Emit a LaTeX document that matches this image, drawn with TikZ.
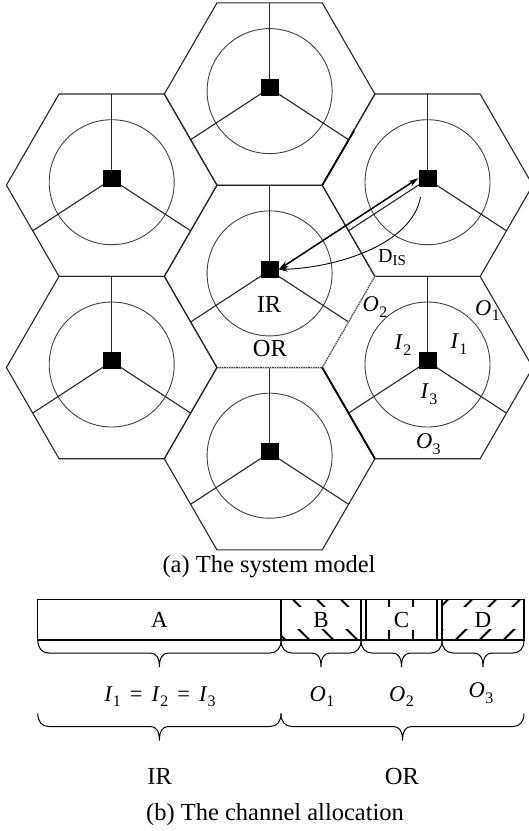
\documentclass[tikz,border=0pt]{standalone}
\usepackage{fontspec}
\setmainfont{Liberation Serif}
\usetikzlibrary{arrows.meta}
\newcommand\hexS{105.3}
\newcommand\hexA{91.2}
% italic letter with upright subscript digit
\newcommand\isub[2]{\textit{#1}\kern0.3pt\raisebox{-0.25em}{\fontsize{16}{18}\selectfont #2}}
% #1 name, #2 cx, #3 cy
\newcommand\hexcell[3]{%
  \draw[hexline] (#2+\hexS,#3) -- (#2+\hexS/2,#3-\hexA) -- (#2-\hexS/2,#3-\hexA) -- (#2-\hexS,#3)
     -- (#2-\hexS/2,#3+\hexA) -- (#2+\hexS/2,#3+\hexA) -- cycle;
  \draw[ring] (#2,#3-3) circle[radius=62.5];
  \coordinate (#1) at (#2,#3-6);
  \draw[spoke] (#1) -- (#2,#3-\hexA);
  \draw[spoke] (#1) -- (#2-0.866*\hexA,#3+0.5*\hexA);
  \draw[spoke] (#1) -- (#2+0.866*\hexA,#3+0.5*\hexA);
  \node[bs] (#1s) at (#2,#3-7) {};
}
% #1 x1, #2 x2, #3 ytop
\newcommand\hbrace[3]{%
  \draw[brc] (#1,#3) .. controls (#1,#3+8) and (#1+4,#3+13) .. (#1+11,#3+13)
    -- ({(#1+#2)/2-9},#3+13) .. controls ({(#1+#2)/2-3},#3+13) and ({(#1+#2)/2},#3+18) .. ({(#1+#2)/2},#3+27)
    .. controls ({(#1+#2)/2},#3+18) and ({(#1+#2)/2+3},#3+13) .. ({(#1+#2)/2+9},#3+13)
    -- (#2-11,#3+13) .. controls (#2-4,#3+13) and (#2,#3+8) .. (#2,#3);
}
\begin{document}
\begin{tikzpicture}[x=1pt,y=-1pt,
  hexline/.style={line width=1.1pt, black!85},
  ring/.style={line width=0.9pt, black!75},
  spoke/.style={line width=1.1pt, black!85},
  bs/.style={fill=black, minimum width=18pt, minimum height=17pt, inner sep=0pt, draw=none},
  lbl/.style={font=\fontsize{24.5}{28}\selectfont, inner sep=0pt},
  mlbl/.style={font=\fontsize{22.5}{26}\selectfont, inner sep=0pt},
  captxt/.style={font=\fontsize{24.5}{28}\selectfont, inner sep=0pt},
  celltxt/.style={font=\fontsize{23}{26}\selectfont, inner sep=0pt},
  bar/.style={line width=1.1pt},
  brc/.style={line width=1pt},
  hatch/.style={line width=1.8pt},
  dblarrow/.style={{Stealth[length=10pt,width=6pt]}-{Stealth[length=10pt,width=6pt]}},
  sglarrow/.style={-{Stealth[length=9pt,width=5pt]}},
]
\useasboundingbox (0,0) rectangle (529,831);

% ---- hexagonal cells ----
\hexcell{T}{269.6}{94.1}
\hexcell{UL}{111.7}{185.2}
\hexcell{UR}{427.5}{185.2}
\hexcell{C}{269.6}{276.4}
\hexcell{LL}{111.7}{367.5}
\hexcell{LR}{427.5}{367.5}
\hexcell{Bo}{269.6}{458.7}

% edge artefacts of the original
\draw[white, line width=1.6pt] (217,367.6) -- (322.25,367.6) -- (374.9,276.4);
\draw[black!75, line width=1pt, dash pattern=on 1.6pt off 0.8pt] (217,367.6) -- (322.25,367.6) -- (374.9,276.4);
\draw[black, line width=1.8pt] (322.25,367.6) -- (374.9,458.7);
\draw[black, line width=1.7pt] (322.25,185.2) -- (354,131);

% ---- D_IS arrows ----
\draw[line width=1.5pt, dblarrow] (Cs.east) -- (URs.west);
\coordinate (cstart) at (420.5,197);
\draw[line width=0.9pt, sglarrow] (cstart) .. controls (412,245) and (335,268) .. (Cs.east);
\node[font=\fontsize{20}{24}\selectfont, inner sep=0pt] (dis) at (392,258) {D\raisebox{-3pt}{\fontsize{15}{18}\selectfont IS}};

% ---- labels in the cells ----
\node[lbl] (ir) at (269,304) {IR};
\node[lbl] (or) at (270,348.4) {OR};
\node[mlbl] (o2) at (375,307) {\isub{O}{2}};
\node[mlbl] (o1) at (487.5,310.5) {\isub{O}{1}};
\node[mlbl] (i2) at (403,345) {\isub{I}{2}};
\node[mlbl] (i1) at (459,344) {\isub{I}{1}};
\node[mlbl] (i3) at (429,394) {\isub{I}{3}};
\node[mlbl] (o3) at (428.3,444) {\isub{O}{3}};

\node[captxt] (capa) at (269,566.7) {(a) The system model};

% ---- channel bar ----
\begin{scope}
  \clip (281,599.5) rectangle (361,640);
  \foreach \x in {245,269,...,365} \draw[hatch] (\x,599.5) -- (\x+40.5,640);
\end{scope}
\fill[white] (282,607) rectangle (360,628.5);
\begin{scope}
  \clip (442,599.5) rectangle (524,640);
  \foreach \x in {448,472,...,570} \draw[hatch] (\x,599.5) -- (\x-40.5,640);
\end{scope}
\fill[white] (443,607) rectangle (523,629);
\draw[line width=2pt] (389.3,599.5) -- (389.3,606.5) (389.3,630) -- (389.3,640);
\draw[line width=2pt] (413.3,599.5) -- (413.3,606.5) (413.3,630) -- (413.3,640);

\draw[bar] (37.8,599.5) rectangle (524,640);
\draw[bar] (281,599.5) -- (281,640);
\draw[bar] (361,599.5) -- (361,640);
\draw[bar] (442,599.5) -- (442,640);
\draw[line width=2.6pt] (366,599.5) -- (366,640);
\draw[line width=2.6pt] (437,599.5) -- (437,640);

\node[celltxt] (ca) at (159.5,620) {A};
\node[celltxt] (cb) at (321,620) {B};
\node[celltxt] (cc) at (401.5,620) {C};
\node[celltxt] (cd) at (483,620) {D};

% ---- braces ----
\hbrace{37.8}{281}{640}
\hbrace{281}{361}{640}
\hbrace{361}{442}{640}
\hbrace{442}{524}{640}

\node[mlbl] (ieq) at (160,696.6) {\isub{I}{1}\hspace{9pt}=\hspace{9pt}\isub{I}{2}\hspace{9pt}=\hspace{9pt}\isub{I}{3}};
\node[mlbl] (bo1) at (322,696.6) {\isub{O}{1}};
\node[mlbl] (bo2) at (401.5,696.6) {\isub{O}{2}};
\node[mlbl] (bo3) at (481,693) {\isub{O}{3}};

\hbrace{37.8}{281}{713.5}
\hbrace{281}{524}{713.5}

\node[lbl] (bir) at (159.6,776) {IR};
\node[lbl] (bor) at (402,776) {OR};

\node[captxt] (capb) at (275,814.7) {(b) The channel allocation};
\end{tikzpicture}
\end{document}
